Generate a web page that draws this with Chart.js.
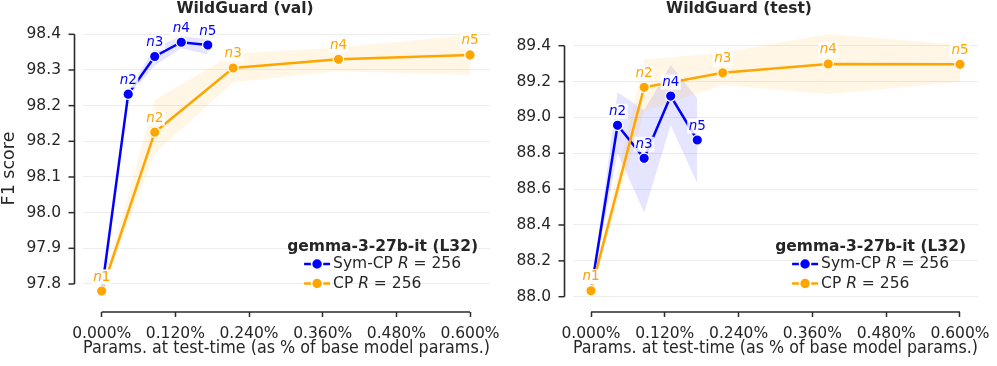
<!DOCTYPE html>
<html>
<head>
<meta charset="utf-8">
<script src="https://cdn.jsdelivr.net/npm/chart.js@4.4.1/dist/chart.umd.min.js"></script>
<style>
html,body{margin:0;padding:0;background:#fff;}
#wrap{position:relative;width:997px;height:366px;overflow:hidden;background:#fff;}
canvas{position:absolute;top:0;}
</style>
</head>
<body>
<div id="wrap">
<canvas id="cVal" width="520" height="366" style="left:0px"></canvas>
<canvas id="cTest" width="497" height="366" style="left:500px"></canvas>
</div>
<script>
// ---------------- data ----------------
const pointNames = ['n1', 'n2', 'n3', 'n4', 'n5'];
// x positions: params at test-time (% of base model params)
const xSymCP = [0, 0.0432, 0.0864, 0.1296, 0.1728];
const xCP    = [0, 0.0864, 0.2142, 0.3857, 0.6];
const xTickVals   = [0, 0.12, 0.24, 0.36, 0.48, 0.6];
const xTickLabels = ['0.000%', '0.120%', '0.240%', '0.360%', '0.480%', '0.600%'];

// WildGuard (val)
const valSym   = [97.777, 98.274, 98.369, 98.405, 98.398];
const valSymLo = [97.777, 98.266, 98.346, 98.390, 98.374];
const valSymHi = [97.777, 98.282, 98.392, 98.420, 98.413];
const valCP    = [97.777, 98.178, 98.340, 98.362, 98.373];
const valCPLo  = [97.772, 98.125, 98.304, 98.332, 98.323];
const valCPHi  = [97.782, 98.259, 98.376, 98.392, 98.423];
const valYTickVals   = [97.795, 97.885, 97.975, 98.065, 98.155, 98.245, 98.335, 98.425];
const valYTickLabels = ['97.8', '97.9', '98.0', '98.1', '98.2', '98.2', '98.3', '98.4'];

// WildGuard (test)
const testSym   = [88.033, 88.956, 88.772, 89.119, 88.874];
const testSymLo = [88.033, 88.800, 88.470, 88.957, 88.632];
const testSymHi = [88.033, 89.140, 89.040, 89.292, 89.107];
const testCP    = [88.033, 89.168, 89.249, 89.298, 89.296];
const testCPLo  = [88.025, 89.033, 89.181, 89.129, 89.199];
const testCPHi  = [88.041, 89.323, 89.361, 89.465, 89.404];
const testYTickVals   = [88.0, 88.2, 88.4, 88.6, 88.8, 89.0, 89.2, 89.4];
const testYTickLabels = ['88.0', '88.2', '88.4', '88.6', '88.8', '89.0', '89.2', '89.4'];

const legendTitle = 'gemma-3-27b-it (L32)';
const legendLabels = ['Sym-CP', 'CP'];
const legendRank = '256';

// ---------------- styling ----------------
const FONT = "'DejaVu Sans', sans-serif";
const TXT = '#262626';
const AX = '#2b2b2b';
const BLUE = '#0000ff';
const ORANGE = '#ffa500';

function zip(xs, ys) { return xs.map((x, i) => ({x: x, y: ys[i]})); }

// spine + y tick marks (seaborn-style offset, trimmed spines)
const spinePlugin = {
  id: 'spines',
  beforeDatasetsDraw(chart, args, o) {
    const {ctx, chartArea: a, scales: {x, y}} = chart;
    const yt = o.yTicks, xt = o.xTicks;
    const sx = a.left - o.offset;
    ctx.save();
    ctx.strokeStyle = AX;
    ctx.lineWidth = 1.6;
    ctx.beginPath();
    ctx.moveTo(sx, y.getPixelForValue(yt[0]));
    ctx.lineTo(sx, y.getPixelForValue(yt[yt.length - 1]));
    ctx.stroke();
    ctx.lineWidth = 1.5;
    yt.forEach(v => {
      const py = y.getPixelForValue(v);
      ctx.beginPath(); ctx.moveTo(sx - 6, py); ctx.lineTo(sx, py); ctx.stroke();
    });
    ctx.lineWidth = 1.6;
    ctx.beginPath();
    ctx.moveTo(x.getPixelForValue(xt[0]), a.bottom);
    ctx.lineTo(x.getPixelForValue(xt[xt.length - 1]), a.bottom);
    ctx.stroke();
    ctx.restore();
  }
};

// n1..n5 annotations with white box
const pointLabelPlugin = {
  id: 'pointLabels',
  afterDatasetsDraw(chart) {
    const ctx = chart.ctx;
    const fs = 13.5;
    chart.data.datasets.forEach((ds, i) => {
      if (!ds.pointNames) return;
      const meta = chart.getDatasetMeta(i);
      meta.data.forEach((pt, j) => {
        const name = ds.pointNames[j];
        const a = name.slice(0, 1), b = name.slice(1);
        const cx = pt.x, cy = pt.y - 14;
        ctx.save();
        ctx.font = `italic ${fs}px ${FONT}`;
        const w1 = ctx.measureText(a).width;
        ctx.font = `${fs}px ${FONT}`;
        const w2 = ctx.measureText(b).width;
        const w = w1 + w2;
        ctx.fillStyle = 'rgba(255,255,255,0.85)';
        ctx.fillRect(cx - w / 2 - 1.5, cy - 7.5, w + 3, 15);
        ctx.fillStyle = ds.borderColor;
        ctx.textBaseline = 'middle';
        ctx.textAlign = 'left';
        ctx.font = `italic ${fs}px ${FONT}`;
        ctx.fillText(a, cx - w / 2, cy);
        ctx.font = `${fs}px ${FONT}`;
        ctx.fillText(b, cx - w / 2 + w1, cy);
        ctx.restore();
      });
    });
  }
};

// legend with title and italic R
const legendPlugin = {
  id: 'ccLegend',
  afterDraw(chart, args, o) {
    const {ctx, chartArea: a} = chart;
    const fs = 15.5;
    ctx.save();
    ctx.font = `bold ${fs}px ${FONT}`;
    const tw = ctx.measureText(o.title).width;
    const cx = a.right - o.rightGap - tw / 2;
    ctx.fillStyle = TXT;
    ctx.textAlign = 'center';
    ctx.textBaseline = 'middle';
    ctx.fillText(o.title, cx, a.bottom - 65);
    const handleW = 26, gap = 3;
    const entries = o.entries.map(e => {
      const parts = [
        {t: e.label + ' ', f: `${fs}px ${FONT}`},
        {t: 'R', f: `italic ${fs}px ${FONT}`},
        {t: ' = ' + e.rank, f: `${fs}px ${FONT}`}
      ];
      let w = handleW + gap;
      parts.forEach(p => { ctx.font = p.f; w += ctx.measureText(p.t).width; });
      return Object.assign({}, e, {parts: parts, w: w});
    });
    const bw = Math.max.apply(null, entries.map(e => e.w));
    const left = cx - bw / 2;
    const offs = [48, 28.5];
    entries.forEach((e, i) => {
      const y = a.bottom - offs[i];
      ctx.strokeStyle = e.color; ctx.lineWidth = 2.5;
      ctx.beginPath(); ctx.moveTo(left, y); ctx.lineTo(left + handleW, y); ctx.stroke();
      ctx.beginPath(); ctx.arc(left + handleW / 2, y, 5.5, 0, Math.PI * 2);
      ctx.fillStyle = e.color; ctx.fill();
      ctx.strokeStyle = '#fff'; ctx.lineWidth = 1.5; ctx.stroke();
      let x = left + handleW + gap;
      ctx.textAlign = 'left'; ctx.textBaseline = 'middle'; ctx.fillStyle = TXT;
      e.parts.forEach(p => { ctx.font = p.f; ctx.fillText(p.t, x, y); x += ctx.measureText(p.t).width; });
    });
    ctx.restore();
  }
};

function buildChart(id, c) {
  const datasets = [
    {data: zip(xSymCP, c.symHi), fill: '+1', backgroundColor: 'rgba(0,0,255,0.10)', borderColor: 'rgba(0,0,0,0)', borderWidth: 0, pointRadius: 0, order: 4},
    {data: zip(xSymCP, c.symLo), fill: false, borderColor: 'rgba(0,0,0,0)', borderWidth: 0, pointRadius: 0, order: 4},
    {data: zip(xCP, c.cpHi), fill: '+1', backgroundColor: 'rgba(255,165,0,0.10)', borderColor: 'rgba(0,0,0,0)', borderWidth: 0, pointRadius: 0, order: 3},
    {data: zip(xCP, c.cpLo), fill: false, borderColor: 'rgba(0,0,0,0)', borderWidth: 0, pointRadius: 0, order: 3},
    {label: legendLabels[0], data: zip(xSymCP, c.sym), borderColor: BLUE, backgroundColor: BLUE, pointBackgroundColor: BLUE,
     pointBorderColor: '#ffffff', pointBorderWidth: 1.2, pointRadius: 5.2, borderWidth: 2.5, fill: false, order: 2, pointNames: pointNames},
    {label: legendLabels[1], data: zip(xCP, c.cp), borderColor: ORANGE, backgroundColor: ORANGE, pointBackgroundColor: ORANGE,
     pointBorderColor: '#ffffff', pointBorderWidth: 1.2, pointRadius: 5.2, borderWidth: 2.5, fill: false, order: 1, pointNames: pointNames}
  ];
  return new Chart(document.getElementById(id), {
    type: 'line',
    data: {datasets: datasets},
    plugins: [spinePlugin, pointLabelPlugin, legendPlugin],
    options: {
      responsive: false,
      animation: false,
      devicePixelRatio: 1,
      events: [],
      layout: {padding: {left: 0, right: c.padRight, top: 0, bottom: 0}},
      elements: {line: {tension: 0}},
      plugins: {
        legend: {display: false},
        tooltip: {enabled: false},
        filler: {propagate: false, drawTime: 'beforeDatasetsDraw'},
        title: {display: true, text: c.title, color: TXT, font: {family: FONT, size: 15.5, weight: 'bold'}, padding: {top: 0, bottom: 6.4}},
        spines: {offset: 8.5, yTicks: c.yTickVals, xTicks: xTickVals},
        ccLegend: {title: legendTitle, rightGap: 12, entries: [
          {label: legendLabels[0], color: BLUE, rank: legendRank},
          {label: legendLabels[1], color: ORANGE, rank: legendRank}
        ]}
      },
      scales: {
        x: {
          type: 'linear',
          min: c.xMin, max: c.xMax,
          afterBuildTicks: s => { s.ticks = xTickVals.map(v => ({value: v})); },
          afterFit: s => { s.height = 54; s.paddingLeft = 0; s.paddingRight = 0; },
          border: {display: false},
          grid: {drawOnChartArea: false, drawTicks: true, tickLength: 5, tickColor: AX, tickWidth: 1.5},
          ticks: {autoSkip: false, maxRotation: 0, color: TXT, padding: 8, font: {family: FONT, size: 15.5},
                  callback: (v, i) => xTickLabels[i]},
          title: {display: true, text: 'Params. at test-time (as % of base model params.)', color: TXT,
                  font: {family: FONT, size: 17}, padding: {top: 0, bottom: 7}}
        },
        y: {
          type: 'linear',
          min: c.yMin, max: c.yMax,
          afterBuildTicks: s => { s.ticks = c.yTickVals.map(v => ({value: v})); },
          afterFit: s => { s.width = c.yWidth; s.paddingTop = 0; s.paddingBottom = 0; },
          border: {display: false},
          grid: {drawOnChartArea: true, drawTicks: false, color: '#ededed', lineWidth: 1},
          ticks: {autoSkip: false, color: TXT, padding: 22, font: {family: FONT, size: 15.5},
                  callback: (v, i) => c.yTickLabels[i]},
          title: {display: c.yTitle, text: 'F1 score', color: TXT, font: {family: FONT, size: 17.5, lineHeight: 1.1}, padding: {top: 0, bottom: 0}}
        }
      }
    }
  });
}

buildChart('cVal', {
  title: 'WildGuard (val)',
  sym: valSym, symLo: valSymLo, symHi: valSymHi,
  cp: valCP, cpLo: valCPLo, cpHi: valCPHi,
  yTickVals: valYTickVals, yTickLabels: valYTickLabels,
  yMin: 97.7243, yMax: 98.4485, xMin: -0.03047, xMax: 0.63258,
  yWidth: 83, padRight: 30, yTitle: true
});
buildChart('cTest', {
  title: 'WildGuard (test)',
  sym: testSym, symLo: testSymLo, symHi: testSymHi,
  cp: testCP, cpLo: testCPLo, cpHi: testCPHi,
  yTickVals: testYTickVals, yTickLabels: testYTickLabels,
  yMin: 87.9147, yMax: 89.5155, xMin: -0.02927, xMax: 0.62927,
  yWidth: 73, padRight: 19, yTitle: false
});
</script>
</body>
</html>
